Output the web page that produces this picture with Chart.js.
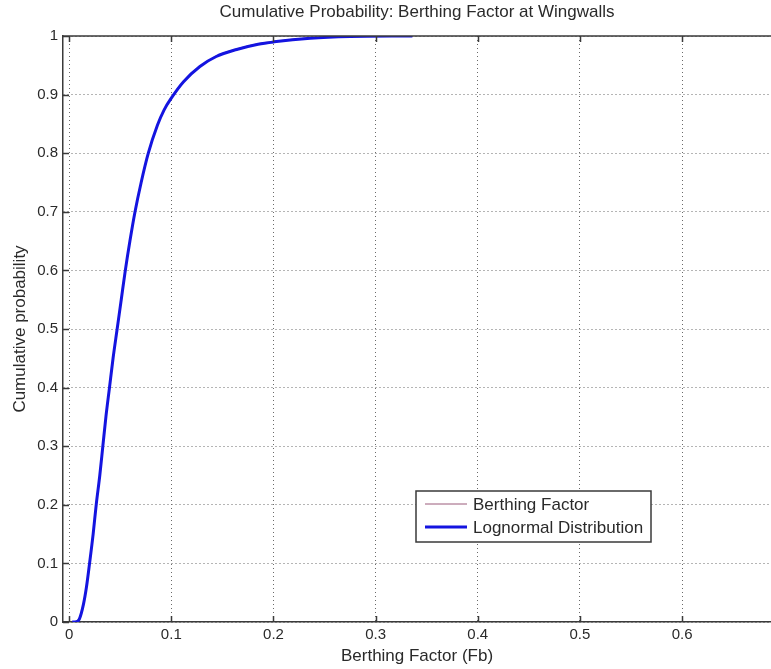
<!DOCTYPE html>
<html lang="en">
<head>
    <meta charset="UTF-8">
    <title>Cumulative Probability: Berthing Factor at Wingwalls</title>
    <script src="https://cdn.jsdelivr.net/npm/chart.js"></script>
    <style>
        body {
            margin: 0;
            background-color: #ffffff;
            overflow: hidden;
        }
        canvas {
            display: block;
        }
    </style>
</head>
<body>
    <canvas id="cdfChart" width="771" height="669"></canvas>

    <script>
        // Tick positions
        const xTicks = [0, 0.1, 0.2, 0.3, 0.4, 0.5, 0.6];
        const yTicks = [0, 0.1, 0.2, 0.3, 0.4, 0.5, 0.6, 0.7, 0.8, 0.9, 1];

        // Berthing factor values (Fb) and cumulative probabilities
        const fbValues = [0.003, 0.006, 0.010, 0.014, 0.017, 0.020, 0.0235, 0.0265, 0.030, 0.033,
                          0.036, 0.0395, 0.043, 0.047, 0.051, 0.055, 0.0595, 0.0645, 0.0705, 0.0775,
                          0.0865, 0.093, 0.100, 0.112, 0.128, 0.144, 0.164, 0.185, 0.2007, 0.236, 0.275, 0.336];
        const berthingCdf = [0, 0.001, 0.006, 0.03, 0.06, 0.10, 0.15, 0.20, 0.25, 0.30,
                             0.35, 0.40, 0.45, 0.50, 0.55, 0.60, 0.65, 0.70, 0.75, 0.80,
                             0.848, 0.875, 0.894, 0.922, 0.948, 0.966, 0.978, 0.987, 0.991, 0.997, 0.999, 1.0];
        const lognormalCdf = [0, 0.000, 0.005, 0.03, 0.06, 0.10, 0.15, 0.20, 0.25, 0.30,
                              0.35, 0.40, 0.45, 0.50, 0.55, 0.60, 0.65, 0.70, 0.75, 0.80,
                              0.848, 0.874, 0.894, 0.922, 0.948, 0.965, 0.977, 0.986, 0.990, 0.996, 0.999, 1.0];

        const toPoints = (xs, ys) => xs.map((x, i) => ({ x: x, y: ys[i] }));

        const axisColor = '#3a3a3a';
        const textColor = '#2a2a2a';
        const gridColor = '#6a6a6a';
        const fontFamily = "'Liberation Sans', Arial, sans-serif";

        // Inward tick marks and top frame line, MATLAB style
        const frameTicks = {
            id: 'frameTicks',
            afterDatasetsDraw(chart) {
                const { ctx, chartArea, scales } = chart;
                const len = 6;
                ctx.save();
                ctx.strokeStyle = axisColor;
                ctx.lineWidth = 1.5;
                ctx.beginPath();
                ctx.moveTo(chartArea.left, chartArea.top);
                ctx.lineTo(chartArea.right, chartArea.top);
                xTicks.forEach(v => {
                    const px = Math.round(scales.x.getPixelForValue(v)) + 0.5;
                    ctx.moveTo(px, chartArea.bottom);
                    ctx.lineTo(px, chartArea.bottom - len);
                    ctx.moveTo(px, chartArea.top);
                    ctx.lineTo(px, chartArea.top + len);
                });
                yTicks.forEach(v => {
                    const py = Math.round(scales.y.getPixelForValue(v)) + 0.5;
                    ctx.moveTo(chartArea.left, py);
                    ctx.lineTo(chartArea.left + len, py);
                });
                ctx.stroke();
                ctx.restore();
            }
        };

        // Boxed legend inside the plot area
        const boxLegend = {
            id: 'boxLegend',
            afterDraw(chart) {
                const { ctx, chartArea } = chart;
                const left = chartArea.left + 353;
                const top = chartArea.top + 455;
                const w = 235, h = 51;
                ctx.save();
                ctx.fillStyle = '#ffffff';
                ctx.fillRect(left, top, w, h);
                ctx.strokeStyle = axisColor;
                ctx.lineWidth = 1.5;
                ctx.strokeRect(left, top, w, h);
                ctx.font = '17px ' + fontFamily;
                ctx.textBaseline = 'middle';
                ctx.fillStyle = textColor;
                chart.data.datasets.forEach((ds, i) => {
                    const y = top + 13 + i * 23;
                    ctx.strokeStyle = ds.borderColor;
                    ctx.lineWidth = ds.borderWidth;
                    ctx.beginPath();
                    ctx.moveTo(left + 9, y);
                    ctx.lineTo(left + 51, y);
                    ctx.stroke();
                    ctx.fillText(ds.label, left + 57, y + 1);
                });
                ctx.restore();
            }
        };

        const tickLabel = value => String(+value.toFixed(2));

        const ctx = document.getElementById('cdfChart').getContext('2d');
        const cdfChart = new Chart(ctx, {
            type: 'line',
            data: {
                datasets: [
                    {
                        label: 'Berthing Factor',
                        data: toPoints(fbValues, berthingCdf),
                        borderColor: '#9a5a7a',
                        borderWidth: 1,
                        pointRadius: 0,
                        cubicInterpolationMode: 'monotone',
                        order: 2
                    },
                    {
                        label: 'Lognormal Distribution',
                        data: toPoints(fbValues, lognormalCdf),
                        borderColor: '#1414e0',
                        borderWidth: 3,
                        pointRadius: 0,
                        cubicInterpolationMode: 'monotone',
                        order: 1
                    }
                ]
            },
            options: {
                responsive: false,
                devicePixelRatio: 1,
                animation: false,
                layout: { padding: 0 },
                plugins: {
                    legend: { display: false },
                    tooltip: { enabled: false },
                    title: {
                        display: true,
                        fullSize: false,
                        text: 'Cumulative Probability: Berthing Factor at Wingwalls',
                        color: textColor,
                        font: { family: fontFamily, size: 17, weight: 'normal' },
                        padding: { top: 2, bottom: 13.6 }
                    }
                },
                scales: {
                    x: {
                        type: 'linear',
                        min: -0.006,
                        max: 0.687,
                        afterBuildTicks: scale => { scale.ticks = xTicks.map(v => ({ value: v })); },
                        afterFit: scale => { scale.height = 47; },
                        grid: { color: gridColor, drawTicks: false },
                        border: { color: axisColor, width: 1.5, dash: [1, 3] },
                        ticks: {
                            color: textColor,
                            padding: 4,
                            callback: tickLabel,
                            font: { family: fontFamily, size: 15 }
                        },
                        title: {
                            display: true,
                            text: 'Berthing Factor (Fb)',
                            color: textColor,
                            font: { family: fontFamily, size: 17 },
                            padding: { top: 0, bottom: 2 }
                        }
                    },
                    y: {
                        type: 'linear',
                        min: 0,
                        max: 1,
                        afterBuildTicks: scale => { scale.ticks = yTicks.map(v => ({ value: v })); },
                        afterFit: scale => { scale.width = 63; },
                        grid: { color: gridColor, drawTicks: false },
                        border: { color: axisColor, width: 1.5, dash: [1, 3] },
                        ticks: {
                            color: textColor,
                            padding: 5,
                            callback: tickLabel,
                            font: { family: fontFamily, size: 15 }
                        },
                        title: {
                            display: true,
                            text: 'Cumulative probability',
                            color: textColor,
                            font: { family: fontFamily, size: 17 },
                            padding: { top: 10, bottom: 0 }
                        }
                    }
                }
            },
            plugins: [frameTicks, boxLegend]
        });
    </script>
</body>
</html>
